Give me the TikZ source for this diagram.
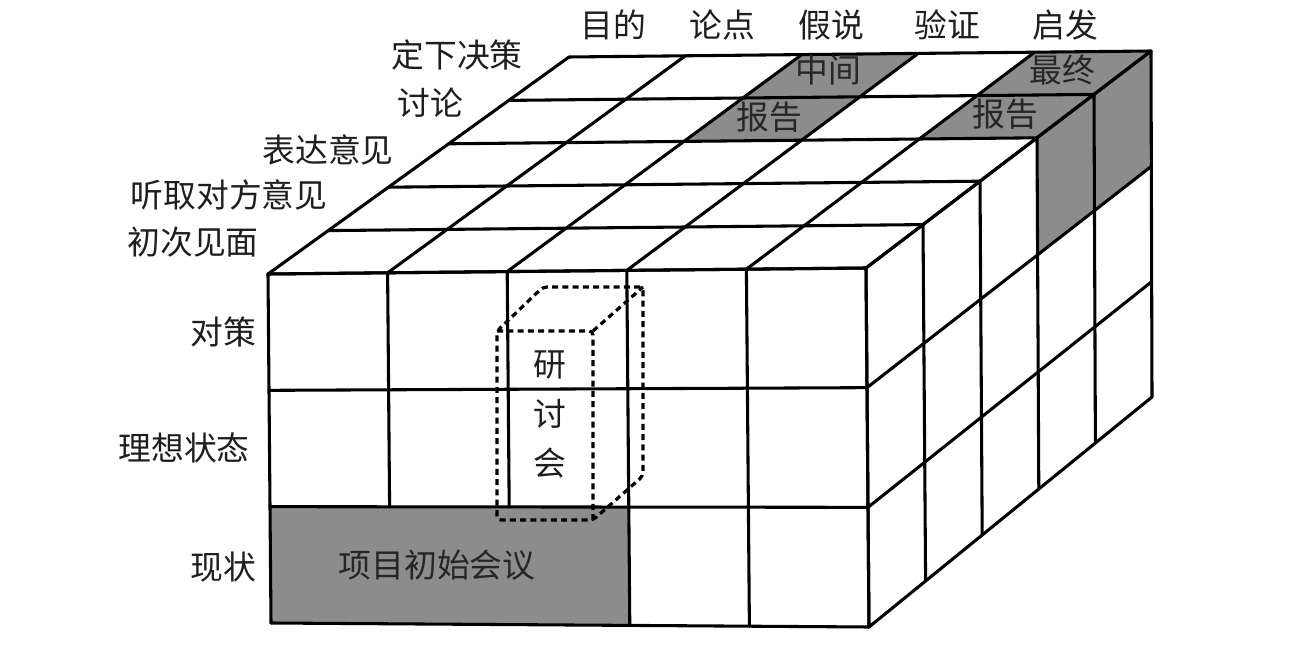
\documentclass[tikz,border=0pt]{standalone}
\usepackage{fontspec}
\newfontfamily\cjk{Noto Sans CJK SC}
\usetikzlibrary{calc}
\definecolor{cellgray}{RGB}{140,140,140}
\definecolor{inkc}{RGB}{30,30,30}
\begin{document}
\begin{tikzpicture}[x=0.75pt,y=-0.75pt,
  grid/.style={line width=2.3pt,line join=round,line cap=round,draw=black},
  lab/.style={inner sep=0pt,text=inkc,font=\cjk\fontsize{24.6}{28}\selectfont},
  graylab/.style={lab,text=black!85},
  meetbox/.style={line width=2.4pt,dash pattern=on 4.5pt off 3.2pt,rounded corners=3pt}]
\useasboundingbox (0,0) rectangle (1300,645);
% cube corners
\coordinate (FTL) at (268,274);
\coordinate (FTR) at (866,268);
\coordinate (FBL) at (271,623);
\coordinate (FBR) at (869,627);
\coordinate (BTL) at (569,57);
\coordinate (BTR) at (1151,51);
\coordinate (BBR) at (1152,397);
% grid points
\foreach \c in {0,...,5}{
  \foreach \d in {0,...,5}{
    \coordinate (T-\c-\d) at ($ ($(FTL)!\c/5!(FTR)$)!\d/5!($(BTL)!\c/5!(BTR)$) $);
  }
  \foreach \h in {0,...,3}{
    \coordinate (F-\c-\h) at ($ ($(FTL)!\c/5!(FTR)$)!\h/3!($(FBL)!\c/5!(FBR)$) $);
  }
}
\foreach \d in {0,...,5}{
  \foreach \h in {0,...,3}{
    \coordinate (R-\d-\h) at ($ ($(FTR)!\d/5!(BTR)$)!\h/3!($(FBR)!\d/5!(BBR)$) $);
  }
}
% gray cells
\fill[cellgray] (T-2-3) -- (T-3-3) -- (T-3-5) -- (T-2-5) -- cycle;
\fill[cellgray] (T-4-3) -- (T-5-3) -- (T-5-5) -- (T-4-5) -- cycle;
\fill[cellgray] (R-3-0) -- (R-5-0) -- (R-5-1) -- (R-3-1) -- cycle;
\fill[cellgray] (F-0-2) -- (F-3-2) -- (F-3-3) -- (F-0-3) -- cycle;
% top face grid
\foreach \d in {0,...,5}{\draw[grid] (T-0-\d) -- (T-5-\d);}
\foreach \c in {0,...,5}{\draw[grid] (T-\c-0) -- (T-\c-5);}
% front face grid
\foreach \h in {0,...,3}{\draw[grid] (F-0-\h) -- (F-5-\h);}
\foreach \c in {0,3,4,5}{\draw[grid] (F-\c-0) -- (F-\c-3);}
\foreach \c in {1,2}{\draw[grid] (F-\c-0) -- (F-\c-2);}
% right face grid
\foreach \d in {0,...,5}{\draw[grid] (R-\d-0) -- (R-\d-3);}
\foreach \h in {0,...,3}{\draw[grid] (R-0-\h) -- (R-5-\h);}
% dashed seminar box
\coordinate (sFTL) at (497,331);
\coordinate (sFTR) at (593,331);
\coordinate (sFBR) at (593,520);
\coordinate (sFBL) at (497,520);
\coordinate (sBTL) at (543,287);
\coordinate (sBTR) at (643,287);
\coordinate (sBBR) at (643,476);
\draw[meetbox] (sFBL) -- (sFTL) -- (sBTL) -- (sBTR) -- (sBBR) -- (sFBR) -- cycle;
\draw[meetbox] (sFTL) -- (sFTR) -- (sFBR);
\draw[meetbox] (sFTR) -- (sBTR);
% column labels
\node[lab] (c1) at (613,25) {目的};
\node[lab] (c2) at (722,25) {论点};
\node[lab] (c3) at (831,25) {假说};
\node[lab] (c4) at (947,25) {验证};
\node[lab] (c5) at (1065,25) {启发};
% depth labels
\node[lab] (d5) at (457,55) {定下决策};
\node[lab] (d4) at (430,103) {讨论};
\node[lab] (d3) at (328,150) {表达意见};
\node[lab] (d2) at (229,195) {听取对方意见};
\node[lab] (d1) at (193,242) {初次见面};
% row labels
\node[lab] (r3) at (223,332) {对策};
\node[lab] (r2) at (184,448) {理想状态};
\node[lab] (r1) at (223,567) {现状};
% cell labels
\node[graylab] (mid1) at (828,70) {中间};
\node[graylab] (mid2) at (769,117) {报告};
\node[graylab] (fin1) at (1062,70) {最终};
\node[graylab] (fin2) at (1005,114) {报告};
\node[graylab] (kick) at (437,565) {项目初始会议};
\node[lab] (sem1) at (550,365) {研};
\node[lab] (sem2) at (550,414) {讨};
\node[lab] (sem3) at (550,463) {会};
\end{tikzpicture}
\end{document}
